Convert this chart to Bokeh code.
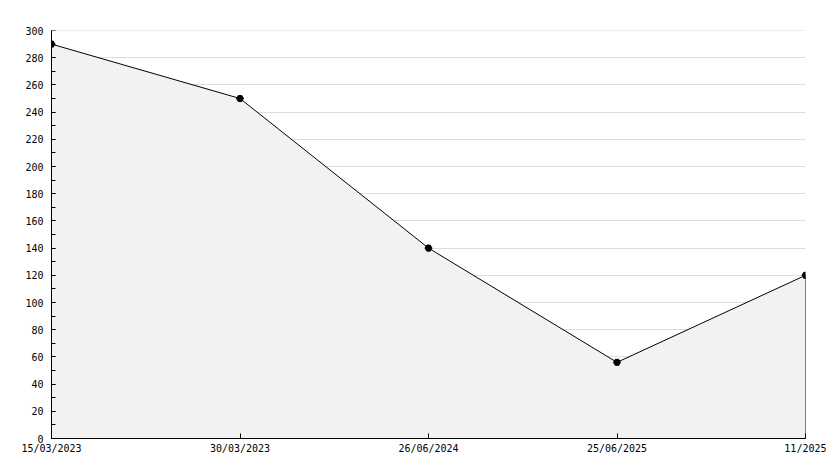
from bokeh.plotting import figure
from bokeh.models import Range1d, FixedTicker, SingleIntervalTicker, Span
from bokeh.embed import file_html
from bokeh.resources import INLINE

dates = ["15/03/2023", "30/03/2023", "26/06/2024", "25/06/2025", "11/2025"]
values = [290, 250, 140, 56, 120]
y_max = 300

xs = list(range(len(dates)))

p = figure(width=826, height=460, output_backend="svg", toolbar_location=None,
           x_range=Range1d(0, len(dates) - 1), y_range=Range1d(0, y_max),
           min_border_left=51, min_border_top=30, min_border_right=21, min_border_bottom=22)
p.outline_line_color = None
p.background_fill_color = "white"

p.add_layout(Span(location=y_max, dimension="width", line_color="#dddddd", line_width=1))

# area polygon
px = [xs[0]] + xs + [xs[-1]]
py = [0] + values + [0]
p.patch(px, py, fill_color="#f2f2f2", line_color="black", line_width=1)
p.scatter(xs, values, marker="hex", size=7, color="black")

font = "DejaVu Sans Mono"
for ax in (p.xaxis[0], p.yaxis[0]):
    ax.axis_line_color = "black"
    ax.major_label_text_font = font
    ax.major_label_text_font_size = "10px"
    ax.major_label_text_color = "black"
    ax.major_tick_out = 0
    ax.minor_tick_out = 0
    ax.major_tick_line_color = "black"
    ax.minor_tick_line_color = "black"

p.xaxis.ticker = FixedTicker(ticks=xs)
p.xaxis.major_label_overrides = {i: d for i, d in enumerate(dates)}
p.xaxis.major_tick_in = 5
p.xaxis.major_label_standoff = 4

p.yaxis.ticker = SingleIntervalTicker(interval=20, num_minor_ticks=2)
p.yaxis.major_tick_in = 4
p.yaxis.minor_tick_in = 4
p.yaxis.major_label_standoff = 8

p.xgrid.grid_line_color = None
p.ygrid.grid_line_color = "#dddddd"
p.ygrid.grid_line_width = 1

open("out.html", "w").write(file_html(p, INLINE))
